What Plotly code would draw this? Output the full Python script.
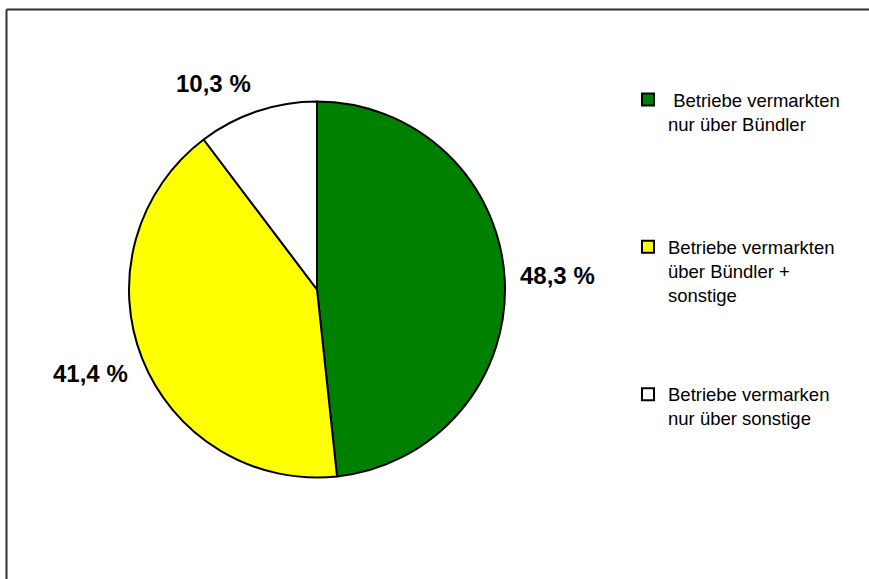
import math
import plotly.graph_objects as go

# Share of farms by marketing channel
labels = [
    "\u00a0Betriebe vermarkten<br>nur über Bündler",
    "Betriebe vermarkten<br>über Bündler +<br>sonstige",
    "Betriebe vermarken<br>nur über sonstige",
]
values = [48.3, 41.4, 10.3]
colors = ["#008000", "#FFFF00", "#FFFFFF"]
value_text = ["48,3 %", "41,4 %", "10,3 %"]

W, H = 869, 579
# pie placement in pixels
cx, cy, R = 317.0, 289.5, 188.0

dom_x = [(cx - R) / W, (cx + R) / W]
dom_y = [1 - (cy + R) / H, 1 - (cy - R) / H]

# pad legend entries so they spread down the right side
pad_lines = [4, 3, 0]
legend_names = [lab + "<br>\u00a0" * n for lab, n in zip(labels, pad_lines)]

FONT = "Arial, Liberation Sans, sans-serif"

fig = go.Figure(
    go.Pie(
        labels=legend_names,
        values=values,
        sort=False,
        direction="clockwise",
        rotation=0,
        marker=dict(colors=colors, line=dict(color="#000000", width=2)),
        textinfo="none",
        hoverinfo="skip",
        domain=dict(x=dom_x, y=dom_y),
    )
)

# value labels placed just outside each slice
total = sum(values)
cum = 0.0
for v, txt in zip(values, value_text):
    mid = (cum + v / 2) / total * 2 * math.pi
    cum += v
    sx, cyv = math.sin(mid), math.cos(mid)
    r = 1.07 * R
    px = cx + sx * r
    py = cy - cyv * r
    xa = "left" if sx > 0.3 else ("right" if sx < -0.3 else "center")
    ya = "bottom" if cyv > 0.3 else ("top" if cyv < -0.3 else "middle")
    shift = {"bottom": 0, "top": 6, "middle": 3}[ya]
    fig.add_annotation(
        x=px / W, y=1 - py / H, xref="paper", yref="paper",
        text="<b>" + txt + "</b>", showarrow=False,
        xanchor=xa, yanchor=ya, yshift=shift,
        font=dict(family=FONT, size=24, color="#000000"),
    )

# frame along the top and left edges
frame = dict(color="#333333", width=2)
fig.add_shape(type="line", xref="paper", yref="paper",
              x0=6.5 / W, x1=1.0, y0=1 - 9.5 / H, y1=1 - 9.5 / H, line=frame)
fig.add_shape(type="line", xref="paper", yref="paper",
              x0=6.5 / W, x1=6.5 / W, y0=0.0, y1=1 - 9.5 / H, line=frame)

fig.update_layout(
    width=W, height=H,
    margin=dict(l=0, r=0, t=0, b=0),
    paper_bgcolor="#FFFFFF",
    plot_bgcolor="#FFFFFF",
    showlegend=True,
    legend=dict(
        x=628 / W, y=1 - 81 / H, xanchor="left", yanchor="top",
        valign="top",
        font=dict(family=FONT, size=18.5, color="#000000"),
        bgcolor="rgba(0,0,0,0)",
        traceorder="normal",
    ),
)

fig.write_html("out.html")
